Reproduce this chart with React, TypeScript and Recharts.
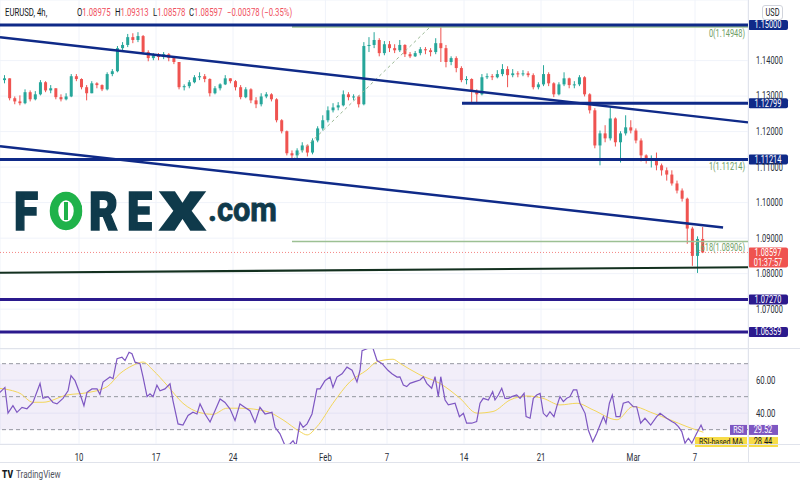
import React from 'react';
import {
  ComposedChart, Bar, Line, XAxis, YAxis, CartesianGrid, ReferenceLine, ReferenceArea,
} from 'recharts';

const FONT = 'Roboto, "Liberation Sans", sans-serif';
const SQUEEZE = 0.74;
const UP = '#26a69a';
const DOWN = '#ef5350';
const NAVY = '#0f2a88';
const INDIGO = '#2b1a8d';
const FIB = '#9cc093';
const FIB_TEXT = '#6f9e66';
const AXIS_TEXT = '#2a2e39';
const GRID = '#f0f3fa';
const RSI_COLOR = '#7e57c2';
const MA_COLOR = '#f3d65a';

// time axis is in trading days from Mon Jan 3, three 8h candles per day
const CANDLES_PER_DAY = 3;
const T_MIN = -0.13;
const T_MAX = 48.44;
const dayTicks = [5, 10, 15, 21, 25, 30, 35, 41, 45];
const dayLabels = ['10', '17', '24', 'Feb', '7', '14', '21', 'Mar', '7'];

const priceTicks = [1.06, 1.07, 1.08, 1.09, 1.1, 1.11, 1.12, 1.13, 1.14];
const PRICE_DOMAIN = [1.05878, 1.15706];

const FIRST_OPEN = 1.1345;
const closes = [
  1.1350, 1.1294, 1.1285, 1.1280, 1.1311, 1.1291, 1.1305, 1.1339, 1.1316, 1.1322,
  1.1297, 1.1291, 1.1299, 1.1356, 1.1348, 1.1325, 1.1308, 1.1336, 1.1331, 1.1319,
  1.1362, 1.1370, 1.1435, 1.1444, 1.1466, 1.1458, 1.1469, 1.1424, 1.1407, 1.1415,
  1.1410, 1.1418, 1.1407, 1.1396, 1.1325, 1.1328, 1.1339, 1.1353, 1.1356, 1.1348,
  1.1308, 1.1322, 1.1333, 1.1350, 1.1342, 1.1325, 1.1297, 1.1319, 1.1288, 1.1277,
  1.1299, 1.1305, 1.1291, 1.1232, 1.1201, 1.1139, 1.1133, 1.1147, 1.1161, 1.1141,
  1.1175, 1.1209, 1.1232, 1.1260, 1.1268, 1.1274, 1.1305, 1.1297, 1.1299, 1.1277,
  1.1441, 1.1444, 1.1458, 1.1421, 1.1446, 1.1435, 1.1429, 1.1444, 1.1418, 1.1412,
  1.1421, 1.1432, 1.1429, 1.1424, 1.1449, 1.1435, 1.1396, 1.1407, 1.1379, 1.1345,
  1.1348, 1.1314, 1.1305, 1.1353, 1.1356, 1.1353, 1.1362, 1.1376, 1.1359, 1.1364,
  1.1362, 1.1364, 1.1359, 1.1325, 1.1333, 1.1362, 1.1336, 1.1305, 1.1333, 1.1350,
  1.1331, 1.1333, 1.1353, 1.1305, 1.1260, 1.1161, 1.1195, 1.1181, 1.1237, 1.1170,
  1.1195, 1.1212, 1.1203, 1.1175, 1.1133, 1.1119, 1.1124, 1.1105, 1.1091, 1.1079,
  1.1054, 1.1034, 1.1011, 1.0927, 1.0850, 1.08975, 1.08597,
];
const highs = [
  1.1359, 1.1350, 1.1299, 1.1302, 1.1319, 1.1316, 1.1314, 1.1345, 1.1342, 1.1331,
  1.1322, 1.1305, 1.1308, 1.1362, 1.1362, 1.1350, 1.1331, 1.1342, 1.1339, 1.1333,
  1.1367, 1.1376, 1.1441, 1.1452, 1.1475, 1.1477, 1.1480, 1.1472, 1.1429, 1.1421,
  1.1421, 1.1424, 1.1421, 1.1412, 1.1396, 1.1333, 1.1345, 1.1359, 1.1367, 1.1362,
  1.1350, 1.1328, 1.1336, 1.1359, 1.1350, 1.1345, 1.1331, 1.1325, 1.1322, 1.1297,
  1.1308, 1.1311, 1.1308, 1.1294, 1.1235, 1.1203, 1.1147, 1.1153, 1.1170, 1.1164,
  1.1181, 1.1215, 1.1246, 1.1271, 1.1280, 1.1283, 1.1316, 1.1311, 1.1305, 1.1302,
  1.1452, 1.1466, 1.1480, 1.1463, 1.1455, 1.1455, 1.1446, 1.1458, 1.1446, 1.1424,
  1.1427, 1.1438, 1.1438, 1.1435, 1.1463, 1.1495, 1.1444, 1.1412, 1.1412, 1.1384,
  1.1356, 1.1350, 1.1319, 1.1362, 1.1364, 1.1362, 1.1373, 1.1390, 1.1384, 1.1376,
  1.1370, 1.1373, 1.1370, 1.1364, 1.1339, 1.1387, 1.1367, 1.1339, 1.1339, 1.1367,
  1.1352, 1.1342, 1.1359, 1.1356, 1.1308, 1.1266, 1.1203, 1.1218, 1.1268, 1.1240,
  1.1201, 1.1246, 1.1232, 1.1209, 1.1181, 1.1136, 1.1133, 1.1141, 1.1110, 1.1099,
  1.1091, 1.1062, 1.1040, 1.1014, 1.0932, 1.0905, 1.09313,
];
const lows = [
  1.1336, 1.1288, 1.1277, 1.1274, 1.1277, 1.1285, 1.1288, 1.1302, 1.1311, 1.1308,
  1.1291, 1.1285, 1.1288, 1.1297, 1.1342, 1.1319, 1.1288, 1.1308, 1.1322, 1.1314,
  1.1316, 1.1356, 1.1367, 1.1429, 1.1438, 1.1449, 1.1452, 1.1418, 1.1398, 1.1401,
  1.1401, 1.1404, 1.1398, 1.1390, 1.1319, 1.1316, 1.1322, 1.1336, 1.1345, 1.1339,
  1.1299, 1.1305, 1.1316, 1.1331, 1.1336, 1.1316, 1.1291, 1.1294, 1.1280, 1.1266,
  1.1271, 1.1294, 1.1285, 1.1226, 1.1195, 1.1133, 1.1124, 1.1121, 1.1141, 1.1130,
  1.1136, 1.1170, 1.1203, 1.1226, 1.1254, 1.1260, 1.1271, 1.1288, 1.1288, 1.1268,
  1.1274, 1.1424, 1.1435, 1.1412, 1.1415, 1.1424, 1.1421, 1.1424, 1.1410, 1.1407,
  1.1410, 1.1415, 1.1418, 1.1412, 1.1418, 1.1396, 1.1381, 1.1387, 1.1367, 1.1339,
  1.1333, 1.1283, 1.1280, 1.1302, 1.1348, 1.1345, 1.1350, 1.1356, 1.1325, 1.1353,
  1.1353, 1.1356, 1.1353, 1.1319, 1.1319, 1.1328, 1.1328, 1.1297, 1.1302, 1.1328,
  1.1322, 1.1322, 1.1328, 1.1299, 1.1251, 1.1153, 1.1105, 1.1170, 1.1175, 1.1158,
  1.1113, 1.1189, 1.1195, 1.1167, 1.1116, 1.1110, 1.1099, 1.1091, 1.1076, 1.1062,
  1.1048, 1.1026, 1.1003, 1.0884, 1.0822, 1.0802, 1.08578,
];

// drawn levels and lines
const LAST_PRICE = 1.08597;
const upperTrend = [[T_MIN, 1.1466], [T_MAX, 1.1226]];
const lowerTrend = [[T_MIN, 1.1159], [46.82, 1.093]];
const baseTrend = [[T_MIN, 1.08025], [T_MAX, 1.0818]];
const level1279Start = 29.87;
const fibStart = 18.83;
const fibLevels = [1.14948, 1.11214, 1.08906];
const fibLabels = ['0(1.14948)', '1(1.11214)', '1.618(1.08906)'];
const fibDiagonal = [[18.9, 1.11214], [27.8, 1.14948]];

// RSI pane
const RSI_DOMAIN = [21.3, 78.9];
const rsiTimes = [
  -0.13, 0.19, 0.39, 0.71, 0.97, 1.3, 1.62, 2.01, 2.47, 2.66, 2.99, 3.31, 3.57, 3.96, 4.29,
  4.48, 4.74, 5.06, 5.32, 5.52, 5.84, 6.17, 6.36, 6.56, 7.01, 7.21, 7.47, 7.79, 7.99, 8.25,
  8.44, 8.64, 8.96, 9.16, 9.42, 9.61, 9.81, 10.06, 10.26, 10.58, 10.91, 11.1, 11.43, 11.75,
  12.08, 12.4, 12.66, 12.86, 13.18, 13.51, 13.83, 14.16, 14.48, 14.81, 15.13, 15.45, 15.78,
  16.1, 16.43, 16.75, 17.08, 17.53, 17.73, 18.05, 18.38, 18.7, 18.9, 19.09, 19.35, 19.55,
  19.81, 20.13, 20.45, 20.65, 20.97, 21.3, 21.49, 21.75, 22.08, 22.4, 22.73, 23.05, 23.25,
  23.38, 23.7, 24.03, 24.35, 24.68, 25.06, 25.32, 25.65, 25.84, 26.06, 26.28, 26.49, 26.82,
  27.14, 27.36, 27.58, 27.9, 28.12, 28.33, 28.49, 28.77, 28.98, 29.42, 29.7, 29.96, 30.17,
  30.5, 30.82, 31.04, 31.25, 31.58, 31.86, 32.01, 32.23, 32.45, 32.66, 32.88, 33.1, 33.42,
  33.64, 33.9, 34.03, 34.29, 34.5, 34.72, 34.94, 35.15, 35.37, 35.58, 35.84, 36.02, 36.23,
  36.45, 36.67, 36.88, 37.1, 37.32, 37.53, 37.86, 38.07, 38.36, 38.62, 38.83, 39.05, 39.22,
  39.44, 39.63, 39.87, 40.13, 40.34, 40.67, 40.99, 41.21, 41.47, 41.75, 42.12, 42.51, 42.73,
  43.16, 43.49, 43.7, 43.92, 44.14, 44.35, 44.57, 44.79, 45.11, 45.39, 45.54,
];
const rsiValues = [
  52.6, 55.6, 40, 44.5, 40.5, 43.5, 42.7, 46.5, 58, 49, 50, 46.5, 45.6, 49, 53.6,
  62.7, 59.7, 51.8, 44.5, 52.6, 54.7, 54.7, 51.4, 58.9, 61.9, 60.9, 73, 73.9, 71.9, 76.9,
  76, 70.9, 70, 61.9, 50, 51.7, 50, 57, 53.6, 54.7, 57.8, 47.6, 33.5, 32.8,
  38.6, 40.6, 39.5, 45.6, 39.5, 34.6, 41.5, 48.6, 46.5, 42.5, 35.5, 45.6, 43.5,
  41.5, 34.4, 43.5, 39.5, 40.5, 31.4, 27.5, 20.3, 21.3, 23.3, 20.3, 34.4, 31.4,
  33.5, 39.5, 54.7, 54.7, 59.7, 61.9, 55.6, 61.9, 63.9, 67.9, 66, 58.9, 66,
  77.9, 79, 81, 71.9, 70, 66, 63.9, 61.9, 62, 57.1, 56.1, 58.1, 59.1,
  60.1, 62.1, 58.1, 55.1, 62.1, 50, 62.1, 48, 45, 46, 37.9, 39.9, 33.9,
  33.9, 34.9, 46, 49, 48, 53, 48, 51, 55.1, 49, 49, 50, 51,
  49, 52, 37.9, 36.9, 49, 51, 52, 39.9, 37.9, 40.9, 37.9, 44, 50,
  47, 49, 50, 54.1, 54.1, 46, 39.9, 29.8, 22.7, 27.8, 32.8, 37.9, 33.9,
  46, 51, 37.9, 37.9, 46, 47, 43.9, 43.9, 33.9, 36.9, 32.8, 37.9, 39.9,
  36.9, 34.9, 33.9, 31.8, 28.8, 21.8, 24.8, 21.8, 27.8, 32.8, 29.52,
];
const maTimes = [
  -0.13, 0.52, 1.17, 2.01, 2.66, 4.22, 5.52, 6.82, 7.66, 8.51, 9.16, 9.81, 10.71, 11.75,
  12.86, 13.7, 14.61, 15.45, 17.21, 18.25, 19.35, 19.81, 20.45, 21.49, 22.6, 23.7, 24.35,
  25.39, 25.84, 27.14, 28.44, 29.74, 30.84, 31.88, 32.99, 34.09, 35.13, 36.23, 37.34,
  38.38, 39.94, 40.97, 42.27, 43.38, 44.48, 45.54,
];
const maValues = [
  55, 54, 52, 46.6, 46.6, 51, 52.4, 56, 64, 69, 71, 66, 57, 46,
  40.3, 39.3, 43, 43, 41, 35.9, 28.8, 26.8, 31.8, 46, 59.1, 66.2, 71.2,
  72.7, 70.2, 63.2, 58, 49, 40, 41, 48, 50.4, 49, 45, 46,
  42, 36, 44, 40, 36, 31.8, 28.44,
];
const RSI_LAST = 29.52;
const MA_LAST = 28.44;

const candles = closes.map((c, i) => ({
  t: (i + 0.5) / CANDLES_PER_DAY,
  o: i === 0 ? FIRST_OPEN : closes[i - 1],
  h: highs[i],
  l: lows[i],
  c,
}));
const rsiData = rsiTimes.map((t, i) => ({ t, v: rsiValues[i] }));
const maData = maTimes.map((t, i) => ({ t, v: maValues[i] }));

const NText = ({ x, y, children, size = 10, fill = AXIS_TEXT, anchor = 'start', weight = 400 }: any) => (
  <text
    transform={`translate(${x},${y}) scale(${SQUEEZE},1)`}
    fontSize={size}
    fill={fill}
    textAnchor={anchor}
    fontFamily={FONT}
    fontWeight={weight}
  >
    {children}
  </text>
);

const Candle = (props: any) => {
  const { x, y, width, height, payload } = props;
  if (!payload) return null;
  const { o, h, l, c } = payload;
  const color = c >= o ? UP : DOWN;
  const top0 = Math.min(y, y + height);
  const hh = Math.abs(height);
  const span = h - l || 1;
  const yOf = (v: number) => top0 + ((h - v) / span) * hh;
  const bTop = yOf(Math.max(o, c));
  const bBot = yOf(Math.min(o, c));
  const cx = x + width / 2;
  return (
    <g>
      <line x1={cx} x2={cx} y1={top0} y2={top0 + hh} stroke={color} strokeWidth={1} />
      <rect x={x} y={bTop} width={width} height={Math.max(1, bBot - bTop)} fill={color} />
    </g>
  );
};

const priceTag = (text: string, bg: string, sub?: string) => (p: any) => {
  const vb = p.viewBox || {};
  const x = vb.x + vb.width;
  const y = vb.y;
  const w = 40;
  return (
    <g>
      <rect x={x} y={y - 5} width={w} height={sub ? 20 : 10} rx={2} fill={bg} />
      <NText x={x + w / 2} y={y + 3.4} fill="#fff" anchor="middle" size={10}>{text}</NText>
      {sub && <NText x={x + w / 2} y={y + 13.2} fill="#fff" anchor="middle" size={10}>{sub}</NText>}
    </g>
  );
};

const fibTag = (text: string) => (p: any) => {
  const vb = p.viewBox || {};
  return (
    <NText x={vb.x + vb.width - 3} y={vb.y + 10} fill={FIB_TEXT} anchor="end" size={10}>{text}</NText>
  );
};

const rsiTag = (name: string, value: string, bg: string, fg: string, nameW: number, dy: number) => (p: any) => {
  const vb = p.viewBox || {};
  const x = vb.x + vb.width;
  const y = vb.y + dy;
  return (
    <g>
      <rect x={x - nameW - 1} y={y - 5} width={nameW} height={10} fill={bg} />
      <NText x={x - 1 - nameW / 2} y={y + 3.4} fill={fg} anchor="middle" size={9.5}>{name}</NText>
      <rect x={x} y={y - 5} width={30} height={10} fill={bg} />
      <NText x={x + 15} y={y + 3.4} fill={fg} anchor="middle" size={10}>{value}</NText>
    </g>
  );
};

const PriceTick = (p: any) => (
  <NText x={p.x} y={p.y + 3.4} size={10}>{Number(p.payload.value).toFixed(5)}</NText>
);
const RsiTick = (p: any) => (
  <NText x={p.x} y={p.y + 3.6} size={10.5}>{Number(p.payload.value).toFixed(2)}</NText>
);
const TimeTick = (p: any) => {
  const i = dayTicks.indexOf(p.payload.value);
  return <NText x={p.x} y={p.y + 9} size={10.5} anchor="middle">{dayLabels[i]}</NText>;
};

const seg = (pts: number[][]) => pts.map(([x, y]) => ({ x, y }));

function Logo() {
  const dark = '#0f3a4b';
  const green = '#1fb24a';
  const big = { fontSize: 53, fontWeight: 900, fill: dark, stroke: dark, strokeWidth: 1.6, fontFamily: FONT, lengthAdjust: 'spacingAndGlyphs' as const };
  return (
    <svg width={300} height={100} style={{ position: 'absolute', left: 0, top: 150, pointerEvents: 'none' }}>
      <text x={14} y={80} {...big} textLength={24}>F</text>
      <ellipse cx={66} cy={61} rx={12} ry={15} fill="none" stroke={green} strokeWidth={8.5} />
      <line x1={66} x2={66} y1={52} y2={70} stroke={green} strokeWidth={4} />
      <line x1={74} x2={82} y1={57} y2={57} stroke={green} strokeWidth={3} />
      <line x1={74} x2={82} y1={64} y2={64} stroke={green} strokeWidth={3} />
      <text x={89} y={80} {...big} textLength={29}>R</text>
      <text x={127} y={80} {...big} textLength={25}>E</text>
      <text x={160} y={80} {...big} textLength={45}>X</text>
      <text x={208} y={71} fontSize={33} fontWeight={700} fill={dark} stroke={dark} strokeWidth={0.8} fontFamily={FONT} textLength={69} lengthAdjust="spacingAndGlyphs">.com</text>
    </svg>
  );
}

function Header() {
  const red = '#f0515e';
  const items = [
    { x: 77, k: 'O', v: '1.08975' },
    { x: 115, k: 'H', v: '1.09313' },
    { x: 153, k: 'L', v: '1.08578' },
    { x: 189, k: 'C', v: '1.08597' },
  ];
  return (
    <svg width={320} height={24} style={{ position: 'absolute', left: 0, top: 0 }}>
      <NText x={5} y={16} size={10.5} fill="#131722">EURUSD, 4h,</NText>
      {items.map((it) => (
        <text key={it.k} transform={`translate(${it.x},16) scale(${SQUEEZE},1)`} fontSize={10.5} fontFamily={FONT}>
          <tspan fill="#131722">{it.k}</tspan>
          <tspan fill={red}>{it.v}</tspan>
        </text>
      ))}
      <NText x={227} y={16} size={10.5} fill={red}>−0.00378 (−0.35%)</NText>
    </svg>
  );
}

export default function App() {
  return (
    <div style={{ position: 'absolute', left: 0, top: 0, width: 800, height: 486, background: '#fff', overflow: 'hidden', fontFamily: FONT }}>
      <div style={{ position: 'absolute', left: 0, top: 0 }}>
        <ComposedChart width={800} height={349} data={candles} margin={{ top: 0, right: 0, bottom: 0, left: 0 }}>
          <CartesianGrid stroke={GRID} />
          <XAxis type="number" dataKey="t" domain={[T_MIN, T_MAX]} ticks={dayTicks} allowDataOverflow hide />
          <YAxis
            orientation="right"
            width={52}
            domain={PRICE_DOMAIN}
            ticks={priceTicks}
            allowDataOverflow
            axisLine={false}
            tickLine={false}
            tick={<PriceTick />}
          />
          <Bar dataKey={(d: any) => [d.l, d.h]} barSize={3} shape={(p: any) => <Candle {...p} />} isAnimationActive={false} />

          <ReferenceLine y={LAST_PRICE} stroke={DOWN} strokeOpacity={0.7} strokeDasharray="1 2" label={{ content: priceTag('1.08597', DOWN, '01:37:57') }} />
          {fibLevels.map((p, i) => (
            <ReferenceLine key={p} segment={[{ x: fibStart, y: p }, { x: T_MAX, y: p }]} stroke={FIB} strokeWidth={1.6} ifOverflow="visible" label={{ content: fibTag(fibLabels[i]) }} />
          ))}
          <ReferenceLine segment={seg(fibDiagonal)} stroke="#9ab894" strokeDasharray="3 3" ifOverflow="visible" />

          <ReferenceLine segment={seg(upperTrend)} stroke={NAVY} strokeWidth={2.5} ifOverflow="visible" />
          <ReferenceLine segment={seg(lowerTrend)} stroke={NAVY} strokeWidth={2.5} ifOverflow="visible" />
          <ReferenceLine segment={seg(baseTrend)} stroke="#13301f" strokeWidth={2.2} ifOverflow="visible" />

          <ReferenceLine y={1.15} stroke={NAVY} strokeWidth={3} label={{ content: priceTag('1.15000', NAVY) }} />
          <ReferenceLine segment={[{ x: level1279Start, y: 1.12799 }, { x: T_MAX, y: 1.12799 }]} stroke={NAVY} strokeWidth={3} ifOverflow="visible" label={{ content: priceTag('1.12799', NAVY) }} />
          <ReferenceLine y={1.11214} stroke={NAVY} strokeWidth={3} label={{ content: priceTag('1.11214', NAVY) }} />
          <ReferenceLine y={1.0727} stroke={INDIGO} strokeWidth={3} label={{ content: priceTag('1.07270', INDIGO) }} />
          <ReferenceLine y={1.06359} stroke={INDIGO} strokeWidth={3} label={{ content: priceTag('1.06359', INDIGO) }} />
        </ComposedChart>
      </div>

      <div style={{ position: 'absolute', left: 0, top: 349 }}>
        <ComposedChart width={800} height={113} margin={{ top: 0, right: 0, bottom: 0, left: 0 }}>
          <CartesianGrid stroke={GRID} />
          <XAxis
            type="number"
            dataKey="t"
            domain={[T_MIN, T_MAX]}
            ticks={dayTicks}
            allowDataOverflow
            height={18}
            axisLine={false}
            tickLine={false}
            tick={<TimeTick />}
          />
          <YAxis
            orientation="right"
            width={52}
            domain={RSI_DOMAIN}
            ticks={[40, 60]}
            allowDataOverflow
            axisLine={false}
            tickLine={false}
            tick={<RsiTick />}
          />
          <ReferenceArea y1={30} y2={70} fill={RSI_COLOR} fillOpacity={0.1} stroke="none" />
          <ReferenceLine y={70} stroke="#9598a1" strokeDasharray="4 3" />
          <ReferenceLine y={50} stroke="#9598a1" strokeDasharray="4 3" />
          <ReferenceLine y={30} stroke="#9598a1" strokeDasharray="4 3" />
          <Line data={maData} dataKey="v" type="monotone" stroke={MA_COLOR} strokeWidth={1} dot={false} isAnimationActive={false} />
          <Line data={rsiData} dataKey="v" type="linear" stroke={RSI_COLOR} strokeWidth={1.2} dot={false} isAnimationActive={false} />
          <ReferenceLine y={MA_LAST} stroke="none" label={{ content: rsiTag('RSI-based MA', '28.44', '#f7dc47', '#131722', 52, 9.8) }} />
          <ReferenceLine y={RSI_LAST} stroke="none" label={{ content: rsiTag('RSI', '29.52', RSI_COLOR, '#fff', 17, -0.5) }} />
        </ComposedChart>
      </div>

      <Logo />
      <Header />

      <div style={{ position: 'absolute', left: 748, top: 0, width: 1, height: 462, background: '#e0e3eb' }} />
      <div style={{ position: 'absolute', left: 0, top: 348, width: 800, height: 1, background: '#e0e3eb' }} />
      <div style={{ position: 'absolute', left: 0, top: 444, width: 800, height: 1, background: '#e0e3eb' }} />
      <div style={{ position: 'absolute', left: 0, top: 462, width: 800, height: 1, background: '#e0e3eb' }} />
      <div style={{ position: 'absolute', left: 762, top: 5, width: 19, height: 13, border: '1px solid #d1d4dc', borderRadius: 3, background: '#fff' }}>
        <svg width={19} height={13} style={{ position: 'absolute', left: 0, top: 0 }}>
          <NText x={9.5} y={10} size={10} anchor="middle" fill="#131722">USD</NText>
        </svg>
      </div>
      <svg width={80} height={20} style={{ position: 'absolute', left: 0, top: 465 }}>
        <text x={2} y={13} fontSize={11} fontWeight={900} fill="#131722" fontFamily={FONT} textLength={11} lengthAdjust="spacingAndGlyphs">TV</text>
        <NText x={16} y={13} size={11} fill="#50535e">TradingView</NText>
      </svg>
    </div>
  );
}
